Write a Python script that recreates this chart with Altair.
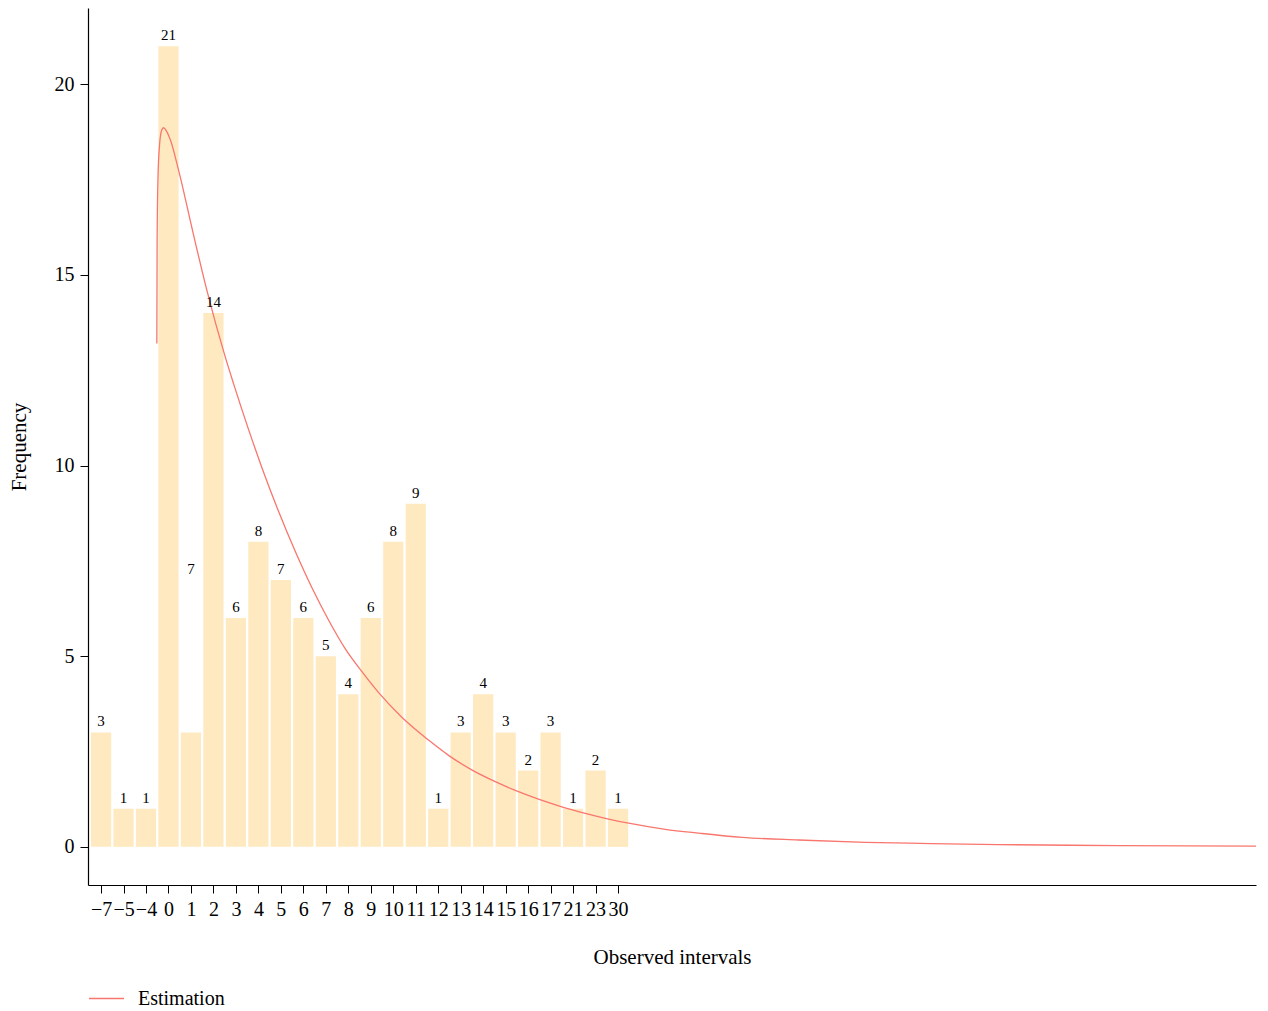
import altair as alt
import pandas as pd

# Categories (observed intervals) and bar data
categories = ["−7", "−5", "−4", "0", "1", "2", "3", "4", "5", "6", "7", "8",
              "9", "10", "11", "12", "13", "14", "15", "16", "17", "21", "23", "30"]
counts = [3, 1, 1, 21, 3, 14, 6, 8, 7, 6, 5, 4, 6, 8, 9, 1, 3, 4, 3, 2, 3, 1, 2, 1]
label_values = [3, 1, 1, 21, 7, 14, 6, 8, 7, 6, 5, 4, 6, 8, 9, 1, 3, 4, 3, 2, 3, 1, 2, 1]

# Estimation curve, x in category-position units
curve_x = [2.482, 2.496, 2.536, 2.602, 2.70, 2.78, 3.078, 3.448, 4.115, 4.706,
           5.525, 5.894, 6.561, 7.153, 7.896, 8.639, 9.377, 10.12, 10.86, 11.60,
           12.34, 13.38, 14.57, 15.46, 16.49, 17.54, 18.43, 19.46, 20.50, 21.54,
           22.58, 23.47, 25.10, 26.59, 28.51, 31.03, 34.0, 36.94, 39.92, 45.26, 51.38]
curve_y = [13.2, 16.0, 17.6, 18.4, 18.8, 18.86, 18.55, 17.75, 16.05, 14.6,
           12.85, 12.15, 10.95, 9.95, 8.8, 7.75, 6.8, 5.95, 5.2, 4.6,
           4.05, 3.4, 2.8, 2.4, 2.02, 1.71, 1.48, 1.25, 1.05, 0.88,
           0.73, 0.62, 0.46, 0.36, 0.25, 0.18, 0.12, 0.087, 0.06, 0.035, 0.02]

FONT = "Liberation Serif"

bars_df = pd.DataFrame({
    "pos": list(range(len(categories))),
    "cat": categories,
    "count": counts,
    "label": label_values,
})
curve_df = pd.DataFrame({"pos": curve_x, "value": curve_y, "series": ["Estimation"] * len(curve_x)})

label_array = "[" + ",".join("'" + c + "'" for c in categories) + "]"

xscale = alt.Scale(domain=[-0.58, 51.38], nice=False, zero=False)
yscale = alt.Scale(domain=[-1, 22], nice=False, zero=False)

xaxis = alt.Axis(
    values=list(range(len(categories))),
    labelExpr=label_array + "[datum.value]",
    title="Observed intervals", titleFont=FONT, titleFontSize=21, titleFontWeight="normal",
    titleColor="black", titlePadding=27,
    labelFont=FONT, labelFontSize=20, labelColor="black", labelOverlap=False, labelFlush=False,
    labelPadding=6,
    grid=False, tickSize=8, tickColor="black", domainColor="black", domainWidth=1.2,
)
yaxis = alt.Axis(
    values=[0, 5, 10, 15, 20],
    title="Frequency", titleFont=FONT, titleFontSize=21, titleFontWeight="normal",
    titleColor="black", titlePadding=25,
    labelFont=FONT, labelFontSize=20, labelColor="black", labelPadding=6,
    grid=False, tickSize=8, tickColor="black", domainColor="black", domainWidth=1.2,
)

base_bars = alt.Chart(bars_df).transform_calculate(
    x0="datum.pos - 0.45", x1="datum.pos + 0.45", y0="0"
)

bars = base_bars.mark_bar(color="#FFE9C0").encode(
    x=alt.X("x0:Q", scale=xscale, axis=xaxis),
    x2="x1:Q",
    y=alt.Y("count:Q", scale=yscale, axis=yaxis),
    y2="y0:Q",
)

texts = alt.Chart(bars_df).mark_text(
    font=FONT, fontSize=15, color="black", baseline="bottom", dy=-3
).encode(
    x=alt.X("pos:Q", scale=xscale),
    y=alt.Y("label:Q", scale=yscale),
    text="label:Q",
)

line = alt.Chart(curve_df).mark_line(strokeWidth=1.3, interpolate="monotone").encode(
    x=alt.X("pos:Q", scale=xscale),
    y=alt.Y("value:Q", scale=yscale),
    color=alt.Color(
        "series:N",
        scale=alt.Scale(domain=["Estimation"], range=["#F8766D"]),
        legend=alt.Legend(
            title=None, orient="none", legendX=0, legendY=972,
            symbolType="stroke", symbolSize=1225, symbolStrokeWidth=1.5,
            labelFont=FONT, labelFontSize=20, labelColor="black", labelOffset=13,
        ),
    ),
)

chart = alt.layer(bars, line, texts).properties(
    width=1168, height=877, padding=0, background="white"
).configure_view(strokeWidth=0)

chart.save("out.html", embed_options={"renderer": "svg", "actions": False})
